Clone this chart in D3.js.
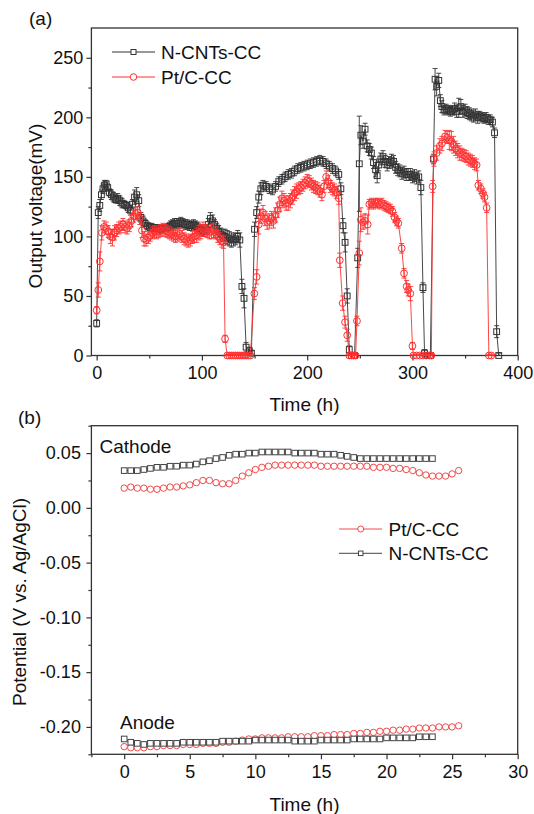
<!DOCTYPE html>
<html><head><meta charset="utf-8">
<script src="https://cdn.jsdelivr.net/npm/d3@7"></script>
<style>
body{margin:0;background:#fff}
svg{display:block}
text{font-family:"Liberation Sans",Arial,Helvetica,sans-serif;fill:#111}
</style>
</head><body>
<svg id="c" width="534" height="814"></svg>
<script>
// ---------------- Panel (a): output voltage ----------------
const seriesNamesA = ["N-CNTs-CC", "Pt/C-CC"];
const xTicksA = [0, 100, 200, 300, 400];
const yTicksA = [0, 50, 100, 150, 200, 250];

// N-CNTs-CC (time h, voltage mV, error mV)
const tN = [0,1.5,3,4.5,6,7.5,9,10.5,12,
  14,16,18,20,22,24,26,28,30,32,34,36,38,40,42,44,46,48,50,52,54,56,58,60,62,64,66,68,70,72,
  74,76,78,80,82,84,86,88,90,92,94,96,98,100,102,104,106,108,110,112,114,116,118,120,122,124,126,128,130,132,134,136,
  138,140,142,145,147,
  150,152,154,156,158,161,164,167,170,173,176,179,182,185,188,191,194,197,200,203,206,209,212,215,218,221,224,227,230,232,234,236,238,240,242,245,
  248,249.5,251,253,255,257,259,261,263,265,266.5,268,270,272,274,276,278,280,282,284,286,288,290,292,294,296,298,300,302,304,306,308,310,311.5,314,317,
  320,321.5,323,325,326.5,328,330,332,334,336,338,340,342,344,346,348,350,352,354,356,358,360,362,364,366,368,370,372,374,376,378,380,382];
const vN = [27,120,126,135,140,143,144,141,137,
  135,133,131,132,130,128,127,126,124,122,127,133,135,130,116,113,111,109,108,108,107,107,107,106,106,107,107,108,109,110,
  111,111,111,112,111,110,110,109,109,110,109,108,106,105,104,106,110,115,113,110,107,104,102,101,100,99,98,97,97,98,100,97,
  58,48,7,4,2,
  106,120,133,140,143,142,140,139,142,146,148,150,152,153,155,157,158,159,160,161,162,163,164,163,161,159,157,155,152,140,109,95,50,5,0,0,
  82,161,185,180,190,176,173,170,162,156,151,160,165,167,163,160,162,164,163,158,156,155,153,154,152,152,152,150,151,149,150,141,57,2,0,0,
  165,232,226,231,214,209,206,207,206,205,206,207,205,208,209,205,206,204,203,202,201,202,200,201,200,199,200,198,198,196,187,20,0];
const eN = [3,5,5,4,4,4,3,3,3,
  4,4,3,4,4,4,3,3,4,4,4,6,6,5,4,4,3,3,3,3,3,3,3,3,3,3,3,3,4,4,
  4,4,4,4,4,4,4,4,4,4,4,4,4,4,4,4,5,5,5,4,4,5,5,5,6,6,6,6,5,5,5,6,
  6,8,4,3,2,
  6,5,5,5,4,4,4,4,4,4,4,4,4,4,4,4,4,4,4,4,4,4,4,4,4,4,4,4,4,5,6,8,6,3,2,2,
  8,40,8,6,5,5,5,5,5,6,6,5,5,5,5,5,5,5,5,5,5,5,5,5,5,5,5,5,5,5,5,6,4,3,2,2,
  4,9,8,6,5,5,4,4,4,4,4,5,5,8,6,5,5,5,5,5,5,5,5,4,4,4,4,4,4,4,4,5,2];

// Pt/C-CC (time h, voltage mV, error mV)
const tP = [0,1.5,3,
  5,7,9,11,13,15,17,19,21,23,25,27,29,31,33,35,37,39,41,43,45,47,49,51,53,55,57,59,61,63,65,67,69,71,73,75,77,79,81,83,
  85,87,89,91,93,95,97,99,101,103,105,107,109,111,113,115,117,119,
  120.5,122,124,126,128,130,132,134,136,138,140,142,144,146,
  149.8,152,154,156,158,160,162,164,166,168,170,172,174,176,178,180,182,184,186,188,190,192,194,196,198,200,202,204,206,208,210,
  212,214,216,218,220,222,224,226,228,230,231,233.7,236,238,240,242,244,246,
  247.3,249.5,251,253,255,257.5,259,261,263,265,267,269,271,273,275,277,279,281,283,285,286.6,289.8,292,294.5,296,298,300,301,304,307,310,313,316,318,
  319.2,320.5,323,326,328,331,333,335,337,339,341,343,345,347,349,351,353,355,357,359,361,362.6,365,367,368.5,370.5,372.6,375];
const vP = [38,55,79,
  103,108,107,104,100,99,103,105,107,108,110,108,107,109,113,117,119,120,115,105,98,97,99,101,103,104,103,104,105,106,105,104,103,102,101,100,101,102,100,98,
  97,96,97,99,100,101,103,104,106,105,104,103,104,105,103,100,98,96,
  95,14,0,0,0,0,0,0,0,0,0,0,0,0,
  52,66,110,117,120,115,112,113,115,113,118,122,127,132,130,128,128,130,133,136,138,140,141,143,145,147,146,144,142,141,140,
  138,135,142,150,146,142,140,139,137,132,80,44,28,17,0,0,0,0,
  29,86,114,112,113,110,127,128,127,128,128,127,128,126,125,124,123,121,116,113,111,90,69,58,55,52,8,0,0,0,0,0,0,0,
  142,165,170,176,178,184,183,181,180,177,174,172,170,169,168,167,165,164,163,161,160,143,140,136,133,124,0,0];
const eP = [3,6,8,
  6,5,5,5,6,7,6,5,5,5,5,5,5,5,5,5,5,5,5,6,6,5,5,5,5,5,5,5,5,5,5,5,5,5,5,5,5,5,5,5,
  5,5,5,5,5,6,6,6,6,5,5,5,6,6,5,5,5,5,
  5,3,1,1,1,1,1,1,1,1,1,1,1,1,
  5,6,8,6,6,6,6,6,6,6,6,6,6,6,6,6,6,6,6,6,6,5,5,5,5,5,5,5,5,5,5,
  5,5,5,5,5,5,5,5,5,5,6,6,5,5,1,1,1,1,
  4,10,10,6,6,8,4,4,4,4,4,4,4,4,4,4,4,4,4,4,4,4,4,5,5,6,3,1,1,1,1,1,1,1,
  5,6,6,6,6,5,5,8,8,7,6,6,6,5,5,5,5,5,5,5,5,4,4,4,4,4,1,1];

// ---------------- Panel (b): electrode potentials ----------------
const seriesNamesB = ["Pt/C-CC", "N-CNTs-CC"];
const xTicksB = [0, 5, 10, 15, 20, 25, 30];
const yTicksB = [-0.20, -0.15, -0.10, -0.05, 0.00, 0.05];
const tB = [0,0.5,1,1.5,2,2.5,3,3.5,4,4.5,5,5.5,6,6.5,7,7.5,8,8.5,9,9.5,10,10.5,11,11.5,12,12.5,
  13,13.5,14,14.5,15,15.5,16,16.5,17,17.5,18,18.5,19,19.5,20,20.5,21,21.5,22,22.5,23,23.5,24,24.5,25,25.5];
// cathode
const vCathN = [.034,.034,.034,.035,.036,.037,.037,.038,.038,.039,.039,.040,.042,.043,.045,.046,.048,.049,.049,.050,
  .050,.051,.051,.051,.051,.051,.050,.050,.050,.050,.049,.049,.049,.048,.047,.046,.045,.045,
  .045,.045,.045,.045,.045,.045,.045,.045,.045,.045];
const vCathP = [.018,.019,.018,.018,.017,.017,.018,.019,.019,.020,
  .021,.023,.025,.025,.023,.022,.022,.025,.029,.032,
  .035,.037,.038,.039,.039,.039,.039,.039,.039,.039,
  .038,.038,.038,.038,.038,.038,.038,.038,.037,.037,
  .037,.036,.036,.035,.034,.032,.030,.029,.029,.029,
  .031,.034];
// anode
const vAnN = [-.211,-.214,-.215,-.216,-.215,-.215,-.215,-.215,-.215,-.214,
  -.214,-.214,-.214,-.214,-.214,-.213,-.213,-.213,-.213,-.213,
  -.212,-.212,-.212,-.212,-.212,-.212,-.213,-.213,-.213,-.213,
  -.212,-.212,-.212,-.212,-.212,-.211,-.211,-.211,-.211,-.211,
  -.210,-.210,-.210,-.210,-.210,-.209,-.209,-.209];
const vAnP = [-.218,-.219,-.219,-.219,-.218,-.218,-.217,-.217,-.217,-.216,
  -.216,-.216,-.215,-.215,-.215,-.214,-.214,-.213,-.212,-.211,
  -.211,-.210,-.210,-.210,-.210,-.209,-.209,-.209,-.209,-.208,
  -.208,-.208,-.207,-.207,-.207,-.206,-.206,-.205,-.205,-.204,
  -.204,-.203,-.203,-.202,-.202,-.201,-.201,-.201,-.200,-.200,
  -.200,-.199];

// ---------------- drawing ----------------
const svg = d3.select("#c");
const AXC = "#333", BLK = "#333", RED = "#ff3030", REDB = "#f04a4a", GRYB = "#444";
const FT = 18, FL = 19;

function frameAxes(g, x, y, o) {
  const [x0, x1] = x.range(), [y0, y1] = y.range();
  const bx = g.append("g").attr("transform", `translate(0,${y0})`)
    .call(d3.axisBottom(x).tickValues(o.xt).tickSize(5).tickPadding(o.xpad).tickFormat(o.xf));
  const bxm = g.append("g").attr("transform", `translate(0,${y0})`)
    .call(d3.axisBottom(x).tickValues(o.xm).tickSize(3).tickFormat(""));
  const ly = g.append("g").attr("transform", `translate(${x0},0)`)
    .call(d3.axisLeft(y).tickValues(o.yt).tickSize(5).tickPadding(o.ypad).tickFormat(o.yf));
  const lym = g.append("g").attr("transform", `translate(${x0},0)`)
    .call(d3.axisLeft(y).tickValues(o.ym).tickSize(3).tickFormat(""));
  [bx, bxm, ly, lym].forEach(a => {
    a.select(".domain").remove();
    a.selectAll("line").attr("stroke", AXC).attr("stroke-width", 1.2);
    a.selectAll("text").style("font-size", FT + "px").attr("fill", "#111");
  });
  g.append("rect").attr("x", x0).attr("y", y1).attr("width", x1 - x0).attr("height", y0 - y1)
    .attr("fill", "none").attr("stroke", AXC).attr("stroke-width", 1.3);
}

function squareAt(g, cx, cy, s, col, fill) {
  g.append("rect").attr("x", cx - s / 2).attr("y", cy - s / 2).attr("width", s).attr("height", s)
    .attr("fill", fill).attr("stroke", col).attr("stroke-width", 1);
}
function circleAt(g, cx, cy, r, col, fill) {
  g.append("circle").attr("cx", cx).attr("cy", cy).attr("r", r)
    .attr("fill", fill).attr("stroke", col).attr("stroke-width", 1);
}

// ---- Panel (a)
const xA = d3.scaleLinear([-5, 400], [91.4, 517.7]);
const yA = d3.scaleLinear([0, 275], [355.5, 28]);
const gA = svg.append("g");
frameAxes(gA, xA, yA, {
  xt: xTicksA, xm: [50, 150, 250, 350], xpad: 6, xf: d3.format("d"),
  yt: yTicksA, ym: [25, 75, 125, 175, 225], ypad: 3, yf: d3.format("d")
});

function seriesA(t, v, e, col, shape) {
  const g = gA.append("g");
  const pts = t.map((d, i) => ({ t: d, v: v[i], e: e[i] }));
  g.append("path").datum(pts)
    .attr("d", d3.line().x(d => xA(d.t)).y(d => yA(d.v)))
    .attr("fill", "none").attr("stroke", col).attr("stroke-width", 0.9);
  pts.forEach(d => {
    const x = xA(d.t);
    if (shape === "sq") squareAt(g, x, yA(d.v), 5.8, col, "none");
    else circleAt(g, x, yA(d.v), 3.4, col, "none");
  });
  pts.forEach(d => {
    const x = xA(d.t), ya = yA(Math.max(0, d.v - d.e)), yb = yA(d.v + d.e);
    g.append("line").attr("x1", x).attr("x2", x).attr("y1", ya).attr("y2", yb)
      .attr("stroke", col).attr("stroke-width", 0.9);
    [ya, yb].forEach(yy => g.append("line").attr("x1", x - 2.5).attr("x2", x + 2.5)
      .attr("y1", yy).attr("y2", yy).attr("stroke", col).attr("stroke-width", 0.9));
  });
}
seriesA(tN, vN, eN, BLK, "sq");
seriesA(tP, vP, eP, RED, "ci");

// legend (a)
[[seriesNamesA[0], BLK, "sq", 52], [seriesNamesA[1], RED, "ci", 77]].forEach(([nm, col, sh, yy]) => {
  gA.append("line").attr("x1", 112).attr("x2", 155).attr("y1", yy).attr("y2", yy)
    .attr("stroke", col).attr("stroke-width", 1);
  if (sh === "sq") squareAt(gA, 133.5, yy, 5, col, "#fff"); else circleAt(gA, 133.5, yy, 3.3, col, "#fff");
  gA.append("text").attr("x", 161).attr("y", yy + 7).style("font-size", FL + "px").text(nm);
});
gA.append("text").attr("x", 29).attr("y", 25).style("font-size", FL + "px").text("(a)");
gA.append("text").attr("x", 304.5).attr("y", 411).attr("text-anchor", "middle")
  .style("font-size", FL + "px").text("Time (h)");
gA.append("text").attr("transform", "translate(42,206) rotate(-90)").attr("text-anchor", "middle")
  .style("font-size", FL + "px").text("Output voltage(mV)");

// ---- Panel (b)
const xB = d3.scaleLinear([-2.5, 30], [91.4, 517.7]);
const yB = d3.scaleLinear([-0.225, 0.075], [754.3, 425.7]);
const gB = svg.append("g");
frameAxes(gB, xB, yB, {
  xt: xTicksB, xm: [-2.5, 2.5, 7.5, 12.5, 17.5, 22.5, 27.5], xpad: 6.4, xf: d3.format("d"),
  yt: yTicksB, ym: [-0.225, -0.175, -0.125, -0.075, -0.025, 0.025, 0.075], ypad: 5.5,
  yf: d => (Math.abs(d) < 1e-9 ? "0.00" : d.toFixed(2))
});

function seriesB(v, col, shape) {
  const g = gB.append("g");
  const pts = v.map((d, i) => ({ t: tB[i], v: d }));
  g.append("path").datum(pts)
    .attr("d", d3.line().x(d => xB(d.t)).y(d => yB(d.v)))
    .attr("fill", "none").attr("stroke", col).attr("stroke-width", 1);
  pts.forEach(d => {
    if (shape === "sq") squareAt(g, xB(d.t), yB(d.v), 5.6, col, "#fff");
    else circleAt(g, xB(d.t), yB(d.v), 3.2, col, "#fff");
  });
}
seriesB(vCathN, GRYB, "sq");
seriesB(vCathP, REDB, "ci");
seriesB(vAnP, REDB, "ci");
seriesB(vAnN, GRYB, "sq");

[[seriesNamesB[0], REDB, "ci", 529], [seriesNamesB[1], GRYB, "sq", 553.3]].forEach(([nm, col, sh, yy]) => {
  gB.append("line").attr("x1", 339).attr("x2", 382).attr("y1", yy).attr("y2", yy)
    .attr("stroke", col).attr("stroke-width", 1);
  if (sh === "sq") squareAt(gB, 360.7, yy, 4.5, col, "#fff"); else circleAt(gB, 360.7, yy, 3, col, "#fff");
  gB.append("text").attr("x", 388.5).attr("y", yy + 7).style("font-size", FL + "px").text(nm);
});
gB.append("text").attr("x", 99.5).attr("y", 453).style("font-size", FL + "px").text("Cathode");
gB.append("text").attr("x", 120).attr("y", 729).style("font-size", FL + "px").text("Anode");
gB.append("text").attr("x", 18).attr("y", 424).style("font-size", FL + "px").text("(b)");
gB.append("text").attr("x", 304.5).attr("y", 811).attr("text-anchor", "middle")
  .style("font-size", FL + "px").text("Time (h)");
gB.append("text").attr("transform", "translate(26,602) rotate(-90)").attr("text-anchor", "middle")
  .style("font-size", FL + "px").text("Potential (V vs. Ag/AgCl)");
</script>
</body></html>
